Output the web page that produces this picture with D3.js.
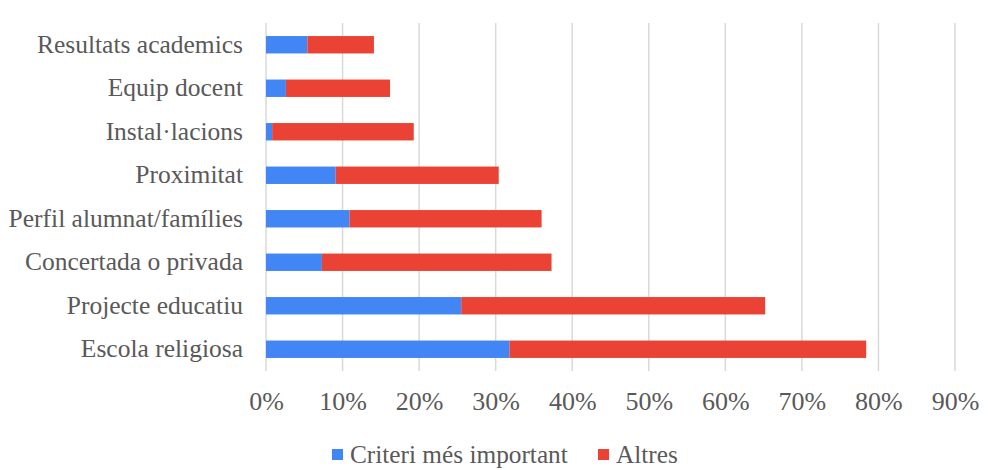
<!DOCTYPE html>
<html>
<head>
<meta charset="utf-8">
<script src="https://cdn.jsdelivr.net/npm/d3@7"></script>
<style>
  body { margin: 0; background: #fff; }
  svg text { font-family: "Liberation Serif", "Times New Roman", serif; fill: #595959; }
</style>
</head>
<body>
<svg id="chart" width="996" height="470"></svg>
<script>
// categories, top to bottom
var categories = ["Resultats academics", "Equip docent", "Instal·lacions", "Proximitat",
  "Perfil alumnat/famílies", "Concertada o privada", "Projecte educatiu", "Escola religiosa"];
// share (%) that ranked it as the most important criterion
var important = [5.4, 2.6, 0.8, 9.1, 10.9, 7.3, 25.5, 31.8];
// share (%) for the rest
var others = [8.7, 13.6, 18.5, 21.3, 25.1, 30.0, 39.7, 46.6];
var ticks = [0, 10, 20, 30, 40, 50, 60, 70, 80, 90];
var seriesNames = ["Criteri més important", "Altres"];
var colors = ["#4285F4", "#EA4335"];

var svg = d3.select("#chart");
var plotLeft = 266, plotRight = 955, plotTop = 23, plotBottom = 371;
var serif = "'Liberation Serif', 'Times New Roman', serif";

var x = d3.scaleLinear().domain([0, 90]).range([plotLeft, plotRight]);
var y = d3.scaleBand().domain(categories).range([plotTop, plotBottom]).paddingInner(0.6).paddingOuter(0.3);

// gridlines
svg.append("g").selectAll("line")
    .data(ticks)
  .enter().append("line")
    .attr("x1", function(d) { return x(d); })
    .attr("x2", function(d) { return x(d); })
    .attr("y1", plotTop)
    .attr("y2", plotBottom)
    .attr("stroke", "#d9d9d9")
    .attr("stroke-width", 1.5);

// x axis labels
var xAxis = d3.axisBottom(x).tickValues(ticks).tickSize(0).tickPadding(0)
    .tickFormat(function(d) { return d + "%"; });
var gx = svg.append("g").attr("transform", "translate(0,410)").call(xAxis);
gx.select(".domain").remove();
gx.selectAll("text").attr("font-size", 26).attr("dy", 0)
    .style("font-family", serif).attr("fill", "#595959");

// y axis labels
var yAxis = d3.axisLeft(y).tickSize(0).tickPadding(23);
var gy = svg.append("g").attr("transform", "translate(" + plotLeft + ",0)").call(yAxis);
gy.select(".domain").remove();
gy.selectAll("text").attr("font-size", 25.5)
    .style("font-family", serif).attr("fill", "#595959");

// stacked bars
var rows = categories.map(function(c, i) { return { cat: c, a: important[i], b: others[i] }; });
var stack = d3.stack().keys(["a", "b"])(rows);

svg.append("g").selectAll("g")
    .data(stack)
  .enter().append("g")
    .attr("fill", function(d, i) { return colors[i]; })
  .selectAll("rect")
    .data(function(d) { return d; })
  .enter().append("rect")
    .attr("x", function(d) { return x(d[0]); })
    .attr("width", function(d) { return x(d[1]) - x(d[0]); })
    .attr("y", function(d) { return y(d.data.cat); })
    .attr("height", y.bandwidth());

// legend
var legendX = [332, 598];
var legend = svg.append("g").selectAll("g")
    .data(seriesNames)
  .enter().append("g")
    .attr("transform", function(d, i) { return "translate(" + legendX[i] + ",449)"; });
legend.append("rect")
    .attr("width", 11).attr("height", 11)
    .attr("fill", function(d, i) { return colors[i]; });
legend.append("text")
    .attr("x", 18).attr("y", 5.5).attr("dy", "0.35em")
    .attr("font-size", 25.3)
    .style("font-family", serif)
    .text(function(d) { return d; });
</script>
</body>
</html>
